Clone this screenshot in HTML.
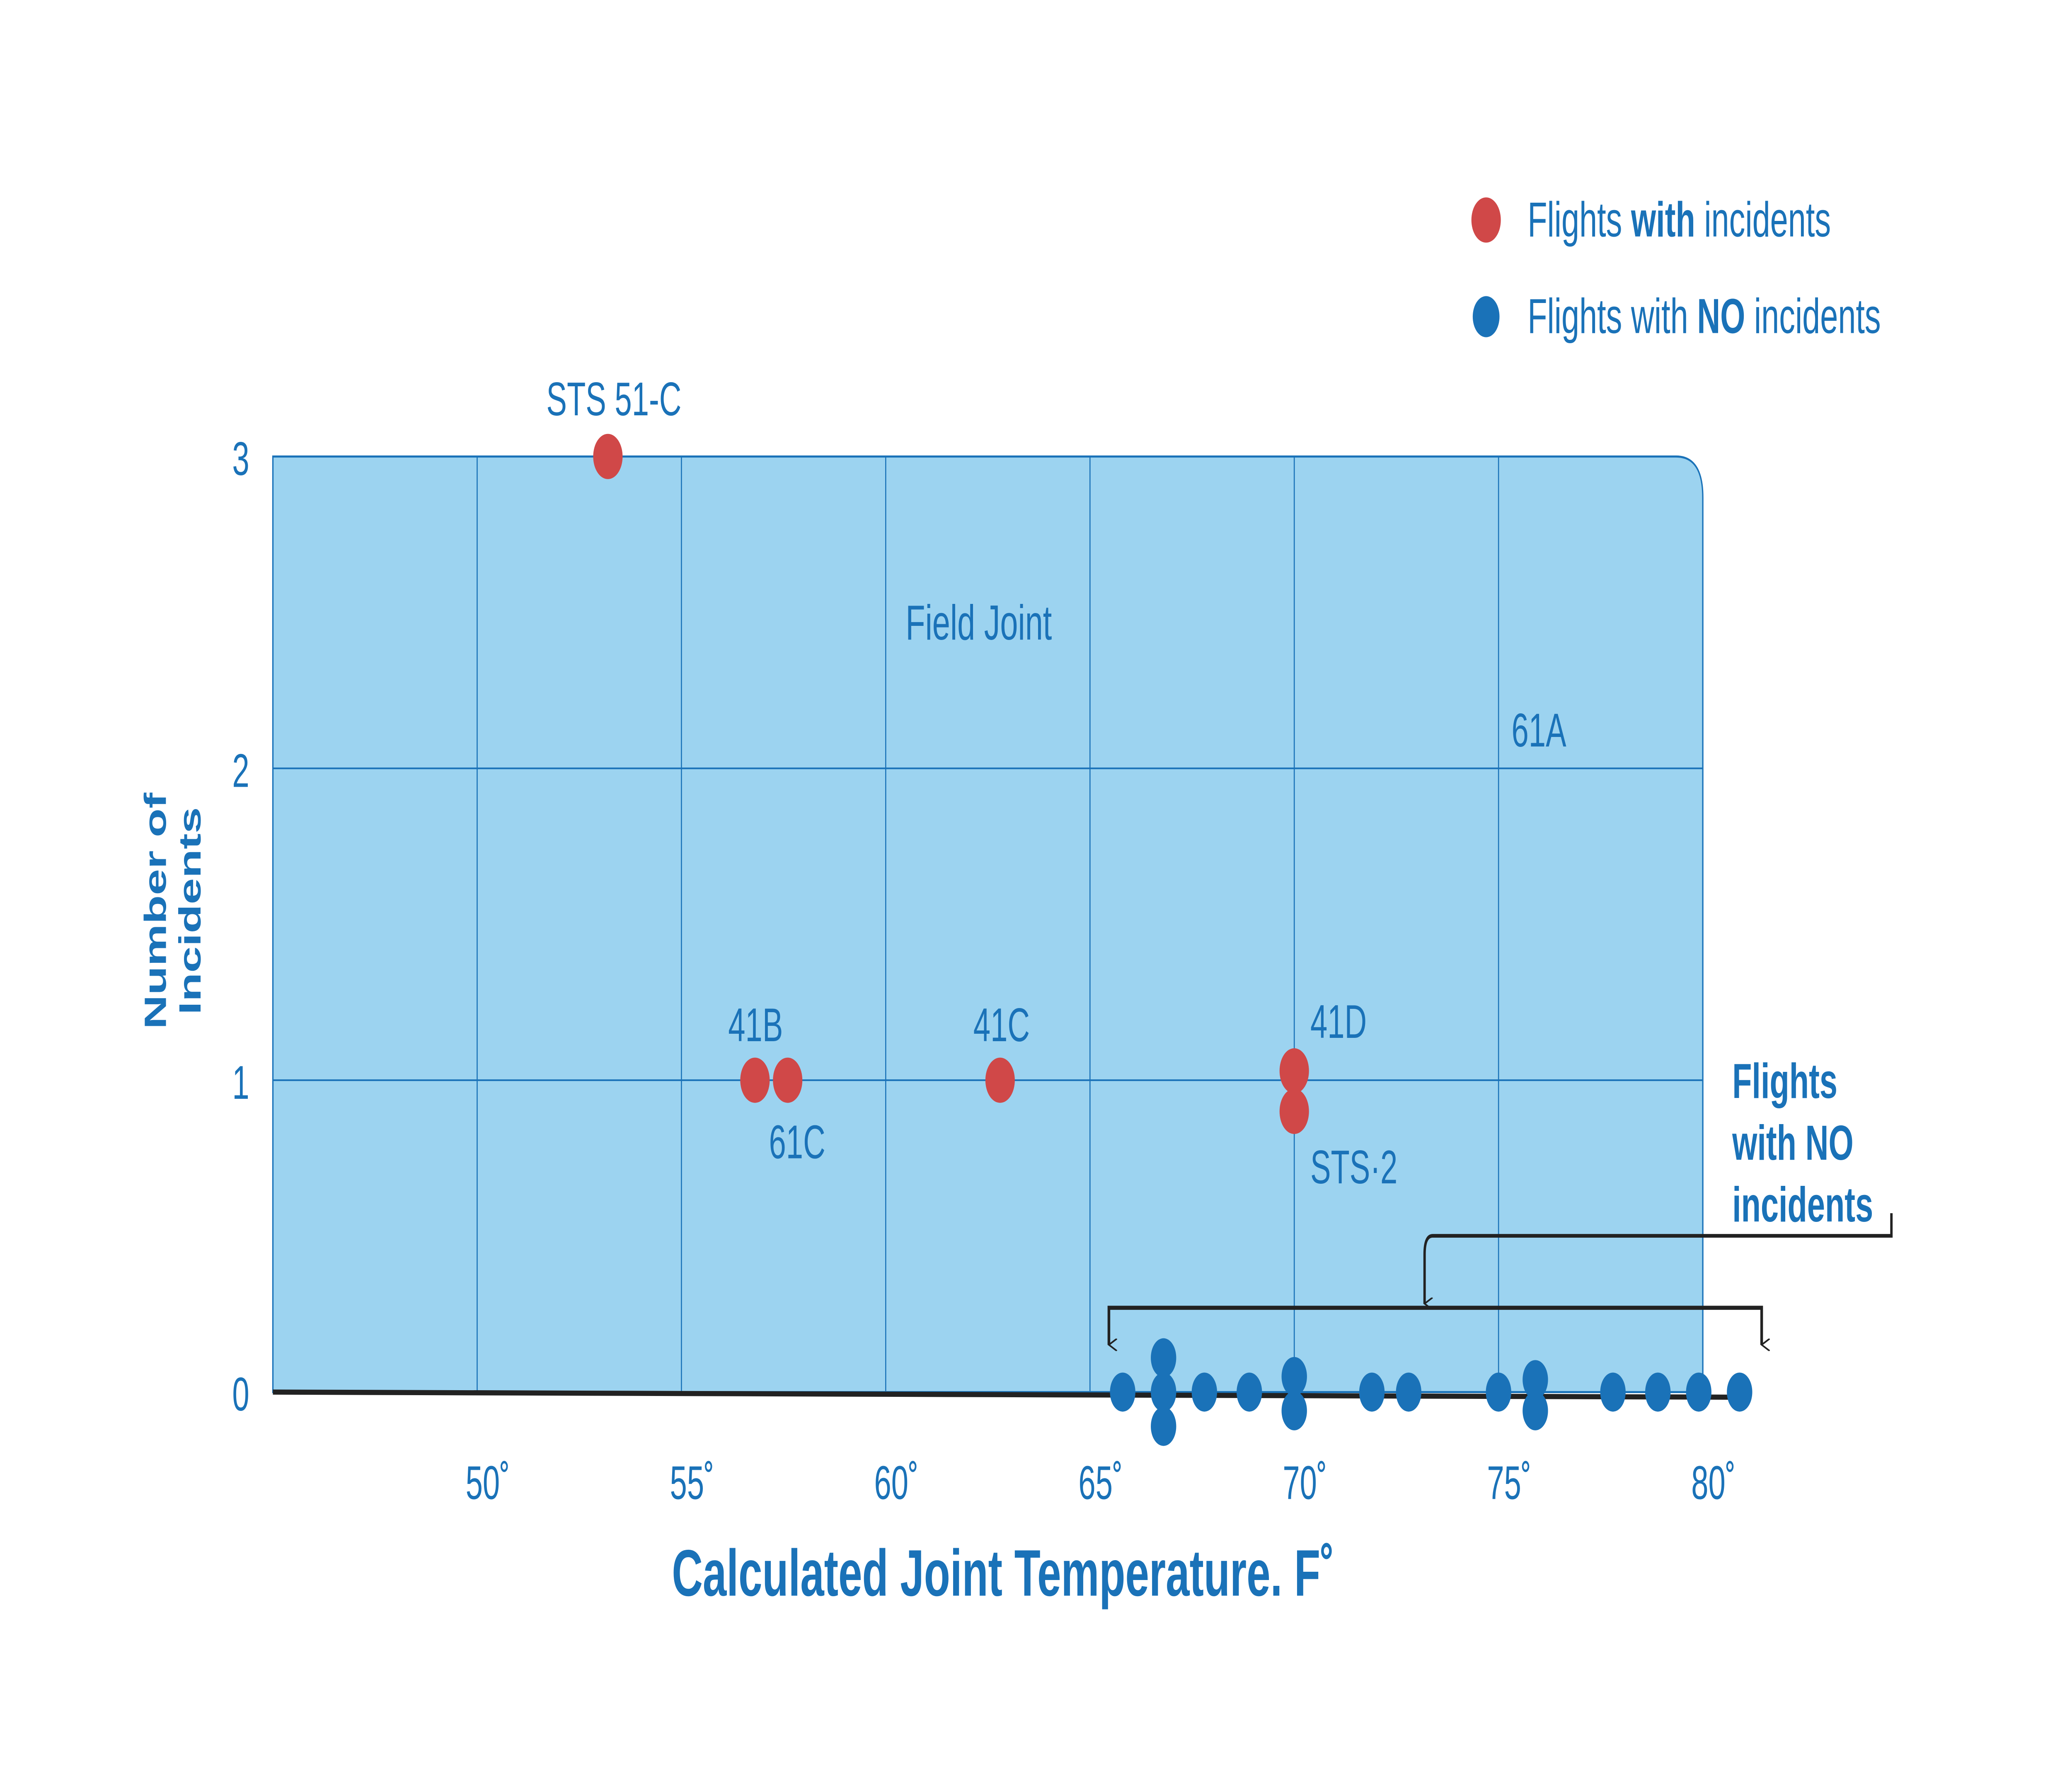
<!DOCTYPE html>
<html><head><meta charset="utf-8"><style>
html,body{margin:0;padding:0;background:#fff;width:100vw;height:100vh;overflow:hidden}
svg{display:block;position:absolute;left:0;top:0;width:100vw;height:100vh}
text{font-family:"Liberation Sans",sans-serif;fill:#1a72b8}
</style></head><body>
<svg id="chart" viewBox="0 0 1549 871" preserveAspectRatio="none" xmlns="http://www.w3.org/2000/svg">
<defs><marker id="ah" viewBox="0 0 10 10" refX="5" refY="10" markerWidth="6" markerHeight="8" orient="auto-start-reverse" markerUnits="userSpaceOnUse"><path d="M0,0 L5,10 L10,0" fill="none" stroke="#222" stroke-width="1.5"/></marker></defs>
<path d="M204,222 H1253 Q1273,222 1273,242 V677 H204 Z" fill="#9cd3f0" stroke="#1a72b8" stroke-width="1"/>
<g id="grid"></g>
<line x1="204" y1="677" x2="1305" y2="679.5" stroke="#222" stroke-width="2.5"/>
<g id="xticks"></g>
<g id="yticks"></g>
<text x="750" y="776" font-size="32" font-weight="bold" text-anchor="middle">Calculated Joint Temperature. F˚</text>
<text transform="translate(124,443) rotate(-90)" font-size="23" font-weight="bold" text-anchor="middle"><tspan x="0" dy="0">Number of</tspan><tspan x="0" dy="26">Incidents</tspan></text>
<text x="677" y="311" font-size="24">Field Joint</text>
<g fill="none" stroke="#222">
<path d="M829,654 V636 H1317 V654" stroke-width="2" marker-start="url(#ah)" marker-end="url(#ah)"/>
<path d="M1414,590 V601 H1071 Q1065,601 1065,610 V634" stroke-width="1.8" marker-end="url(#ah)"/>
</g>
<text x="1295" y="534" font-size="24" font-weight="bold"><tspan x="1295">Flights</tspan><tspan x="1295" dy="30">with NO</tspan><tspan x="1295" dy="30">incidents</tspan></text>
<g id="points"></g>
<g id="labels"></g>
<g>
<circle cx="1111" cy="107" r="11" fill="#d04848"/>
<text x="1142" y="115" font-size="24">Flights <tspan font-weight="bold">with</tspan> incidents</text>
<circle cx="1111" cy="154" r="10" fill="#1a72b8"/>
<text x="1142" y="162" font-size="24">Flights with <tspan font-weight="bold">NO</tspan> incidents</text>
</g>
</svg>
<script>
const xTicks=[50,55,60,65,70,75,80];
const yTicks=[0,1,2,3];
const redTemps=[53.2,56.8,57.6,62.8,70,70];
const redCounts=[3,1,1,1,1.03,0.9];
const redLabels=["STS 51-C","41B","61C","41C","41D","STS·2"];
const blueTemps=[65.8,66.8,66.8,66.8,67.8,68.9,70,70,71.9,72.8,75,75.9,75.9,77.8,78.9,79.9,80.9];
const blueCounts=[0,0.11,0,-0.11,0,0,0.05,-0.06,0,0,0,0.04,-0.06,0,0,0,0];
const NS="http://www.w3.org/2000/svg";
const X=t=>204+(t-45)*(1069/35);
const Y=v=>677-v*(455/3);
function mk(tag,attrs,parent,txt){const e=document.createElementNS(NS,tag);for(const k in attrs)e.setAttribute(k,attrs[k]);if(txt!==undefined)e.textContent=txt;parent.appendChild(e);return e;}
const grid=document.getElementById('grid');
xTicks.slice(0,-1).forEach(t=>{const l=mk('line',{x1:X(t),x2:X(t),y1:222,y2:677,stroke:'#1a72b8','stroke-width':0.8},grid);

});
[1,2].forEach(v=>{const l=mk('line',{x1:204,x2:1273,y1:Y(v),y2:Y(v),stroke:'#1a72b8','stroke-width':0.8},grid);

});
const xt=document.getElementById('xticks');
xTicks.forEach(t=>{const e=mk('text',{x:X(t)+8,y:729,'font-size':23,'text-anchor':'middle'},xt,t+'˚');

});
const yt=document.getElementById('yticks');
yTicks.forEach(v=>{const e=mk('text',{x:180,y:Y(v)+9,'font-size':23,'text-anchor':'middle'},yt,String(v));

});
const pts=document.getElementById('points');
blueTemps.forEach((t,i)=>{const c=mk('circle',{cx:X(t),cy:Y(blueCounts[i]),r:9.5,fill:'#1a72b8'},pts);

});
redTemps.forEach((t,i)=>{const c=mk('circle',{cx:X(t),cy:Y(redCounts[i]),r:11,fill:'#d04848'},pts);

});
const lab=document.getElementById('labels');
const offs=[[-46,-20],[-20,-19],[-14,38],[-20,-19],[12,-16],[12,35]];
redTemps.forEach((t,i)=>{const e=mk('text',{x:X(t)+offs[i][0],y:Y(redCounts[i])+offs[i][1],'font-size':23},lab,redLabels[i]);

});
const e61=mk('text',{x:1130,y:363,'font-size':23},lab,'61A');


</script>
</body></html>
